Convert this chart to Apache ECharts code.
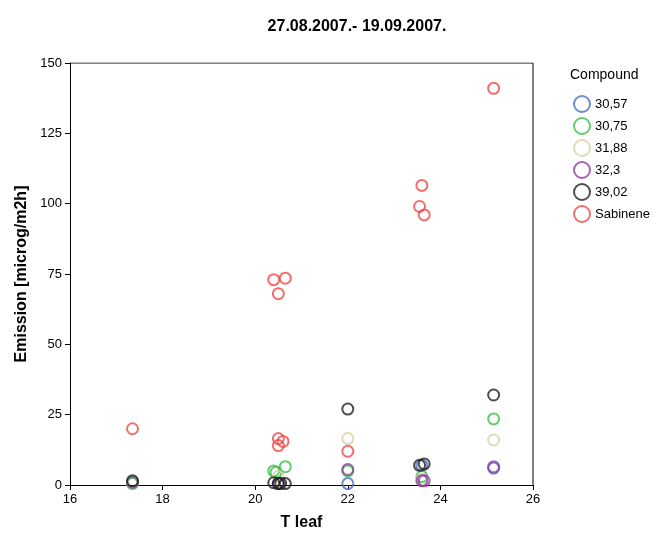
<!DOCTYPE html>
<html>
<head>
<meta charset="utf-8">
<script src="https://cdn.jsdelivr.net/npm/echarts@6/dist/echarts.min.js"></script>
<style>html,body{margin:0;padding:0;background:#fff}#chart{width:657px;height:554px}</style>
</head>
<body>
<div id="chart"></div>
<script>
var compounds = ['30,57', '30,75', '31,88', '32,3', '39,02', 'Sabinene'];
var colors = ['#4a6fc4', '#3cbf4a', '#d6d2a2', '#8c3d9f', '#222222', '#ef4a4a'];

var s3057 = [[17.35, 0.8], [20.5, 0.5], [22.0, 0.5], [23.6, 7], [25.15, 6.5]];
var s3075 = [[17.35, 0.5], [20.4, 5], [20.45, 4.5], [20.65, 6.5], [22.0, 5], [23.6, 3], [25.15, 23.5]];
var s3188 = [[17.35, 1], [20.5, 3], [22.0, 16.5], [23.6, 2], [25.15, 16]];
var s323 = [[17.35, 1], [20.5, 0.5], [22.0, 5.5], [23.6, 1.5], [23.65, 1.5], [25.15, 6]];
var s3902 = [[17.35, 1.5], [20.4, 0.8], [20.5, 0.5], [20.55, 0.6], [20.65, 0.5], [22.0, 27], [23.55, 7], [23.65, 7.5], [25.15, 32]];
var sSab = [[17.35, 20], [20.4, 73], [20.5, 68], [20.65, 73.5], [20.5, 16.5], [20.6, 15.5], [20.5, 14], [22.0, 12], [23.55, 99], [23.6, 106.5], [23.65, 96], [25.15, 141]];
var allData = [s3057, s3075, s3188, s323, s3902, sSab];

var chart = echarts.init(document.getElementById('chart'));
chart.setOption({
    animation: false,
    title: {
        text: '27.08.2007.- 19.09.2007.',
        left: 352, top: 14, textAlign: 'center',
        textStyle: {fontFamily: 'Arial', fontSize: 16, fontWeight: 'bold', color: '#000'}
    },
    legend: {
        orient: 'vertical', left: 568, top: 90, itemGap: 4,
        itemWidth: 16, itemHeight: 16, icon: 'circle',
        textStyle: {fontFamily: 'Arial', fontSize: 13, color: '#000'},
        data: compounds
    },
    graphic: [{type: 'text', left: 570, top: 68,
        style: {text: 'Compound', fontFamily: 'Arial', fontSize: 14, fill: '#000'}}],
    grid: {left: 70, right: 124, top: 63, bottom: 69},
    xAxis: {
        type: 'value', min: 16, max: 26, interval: 2,
        name: 'T leaf', nameLocation: 'middle', nameGap: 30,
        nameTextStyle: {fontFamily: 'Arial', fontSize: 16, fontWeight: 'bold', color: '#000'},
        axisLine: {lineStyle: {color: '#000'}}, axisTick: {lineStyle: {color: '#000'}},
        axisLabel: {color: '#000', fontFamily: 'Arial', fontSize: 13},
        splitLine: {show: false}
    },
    yAxis: {
        type: 'value', min: 0, max: 150, interval: 25,
        name: 'Emission [microg/m2h]', nameLocation: 'middle', nameGap: 40,
        nameTextStyle: {fontFamily: 'Arial', fontSize: 16, fontWeight: 'bold', color: '#000'},
        axisLine: {show: true, lineStyle: {color: '#000'}}, axisTick: {show: true, lineStyle: {color: '#000'}},
        axisLabel: {color: '#000', fontFamily: 'Arial', fontSize: 13},
        splitLine: {show: false}
    },
    series: compounds.map(function (name, i) {
        return {
            name: name, type: 'scatter', data: allData[i], symbol: 'circle', symbolSize: 11,
            itemStyle: {color: 'rgba(255,255,255,0)', borderColor: colors[i], borderWidth: 2}
        };
    }).concat([{
        type: 'line', data: [[16, 150], [26, 150], [26, 0]], symbol: 'none', silent: true,
        lineStyle: {color: '#000', width: 1}
    }])
});
</script>
</body>
</html>
